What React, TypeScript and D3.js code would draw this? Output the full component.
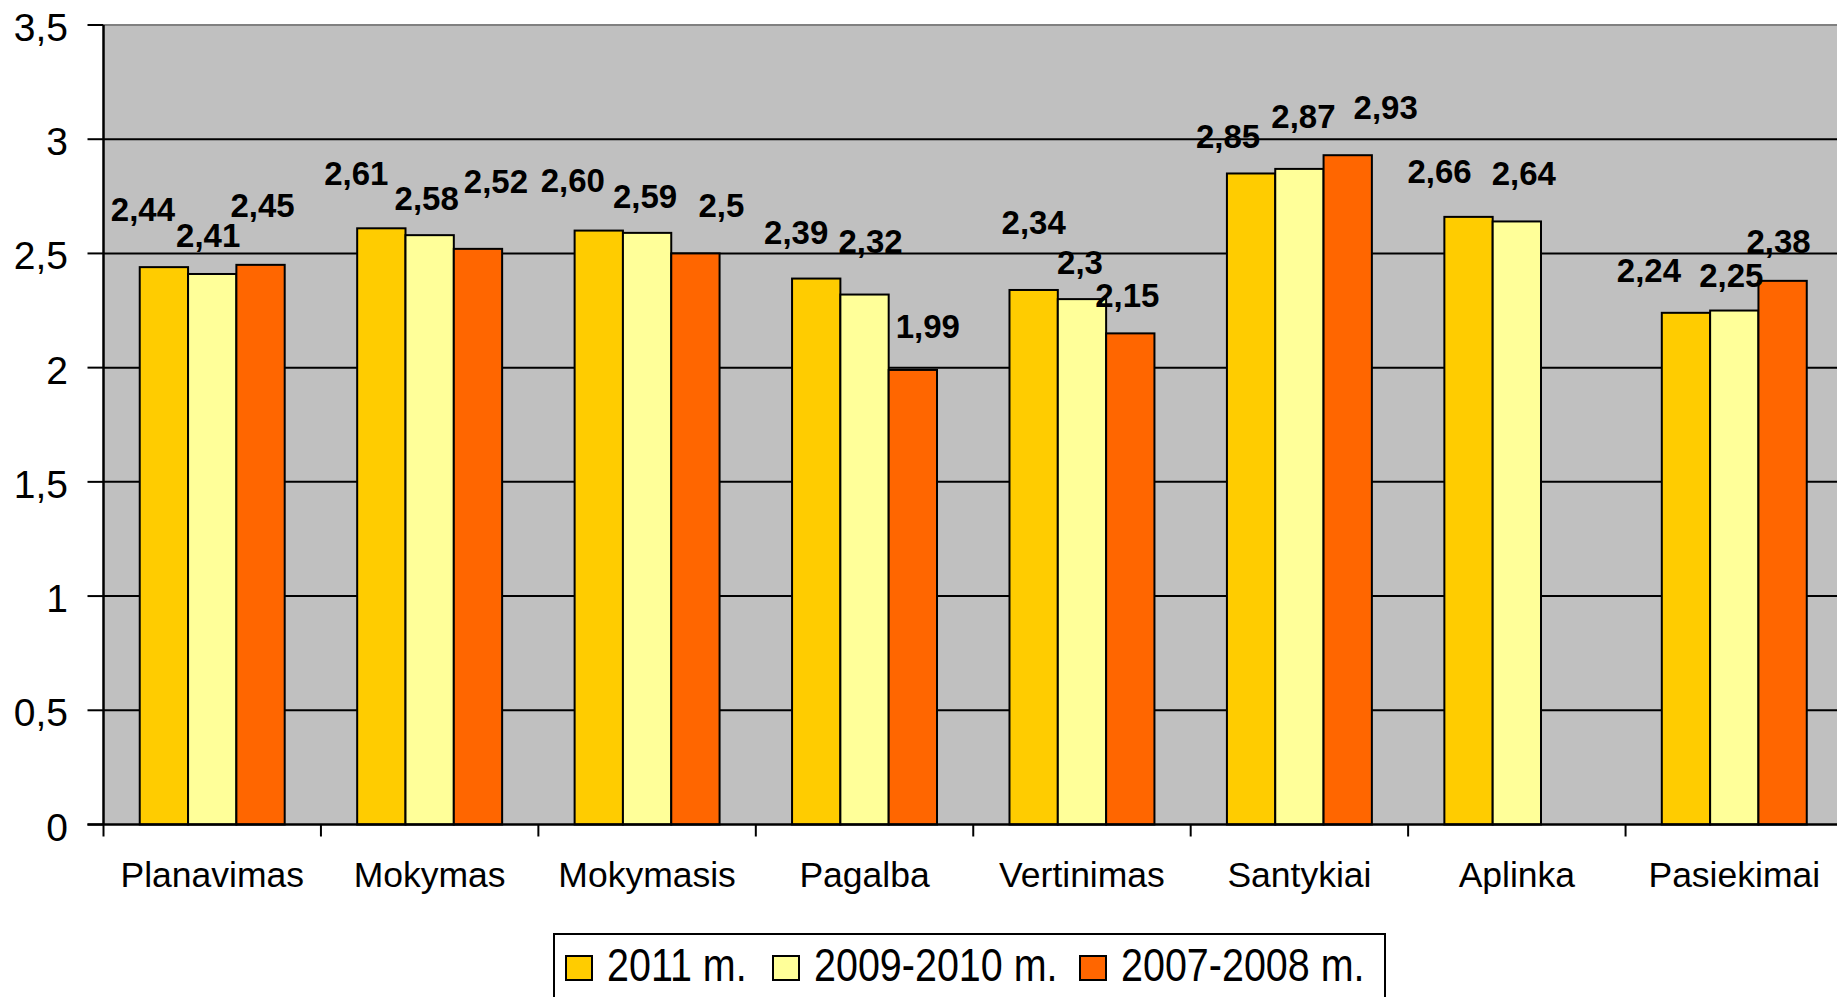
import { useEffect } from 'react'
import { range, scaleBand, scaleLinear } from 'd3'

const categories = [
  'Planavimas',
  'Mokymas',
  'Mokymasis',
  'Pagalba',
  'Vertinimas',
  'Santykiai',
  'Aplinka',
  'Pasiekimai',
]

const seriesNames = ['2011 m.', '2009-2010 m.', '2007-2008 m.']

const values2011 = [2.44, 2.61, 2.6, 2.39, 2.34, 2.85, 2.66, 2.24]
const values2009 = [2.41, 2.58, 2.59, 2.32, 2.3, 2.87, 2.64, 2.25]
const values2007 = [2.45, 2.52, 2.5, 1.99, 2.15, 2.93, null, 2.38]

// printed labels keep the source formatting ("2,60", "2,5")
const labels2011 = ['2,44', '2,61', '2,60', '2,39', '2,34', '2,85', '2,66', '2,24']
const labels2009 = ['2,41', '2,58', '2,59', '2,32', '2,3', '2,87', '2,64', '2,25']
const labels2007 = ['2,45', '2,52', '2,5', '1,99', '2,15', '2,93', '', '2,38']

const yTickValues = [0, 0.5, 1, 1.5, 2, 2.5, 3, 3.5]

const seriesColors = ['#FFCC00', '#FFFF99', '#FF6600']

// label placement as in the source chart: horizontal shift and height above the bar top
const labelDx = [
  [-21, -25, -26, -20, 0, -23, -29, -37],
  [-4, -3, -2, 6, -2, 4, 7, -3],
  [2, 18, 26, 15, -3, 38, 0, -4],
]
const labelRise = [
  [46, 43, 39, 35, 56, 25, 34, 31],
  [27, 25, 25, 42, 25, 41, 36, 24],
  [48, 56, 36, 32, 26, 36, 0, 28],
]

const width = 1837
const height = 997
const plot = { left: 103.5, right: 1843, top: 25, bottom: 824.5 }
const font = '"Liberation Sans", Arial, sans-serif'

function App() {
  useEffect(() => {
    document.body.style.margin = '0'
    document.body.style.overflow = 'hidden'
  }, [])

  const seriesValues = [values2011, values2009, values2007]
  const seriesLabels = [labels2011, labels2009, labels2007]

  const x0 = scaleBand().domain(categories).range([plot.left, plot.right])
  const gap = x0.bandwidth() / 6
  const x1 = scaleBand()
    .domain(range(seriesNames.length).map(String))
    .range([gap, x0.bandwidth() - gap])
  const y = scaleLinear().domain([0, 3.5]).range([plot.bottom, plot.top])

  const legendSwatchX = [566, 773, 1080]

  return (
    <svg
      width={width}
      height={height}
      viewBox={`0 0 ${width} ${height}`}
      style={{ position: 'absolute', left: 0, top: 0, display: 'block', background: '#fff' }}
      fontFamily={font}
    >
      <rect
        x={plot.left}
        y={plot.top}
        width={plot.right - plot.left}
        height={plot.bottom - plot.top}
        fill="#C0C0C0"
      />
      <line x1={plot.left} x2={plot.right} y1={plot.top} y2={plot.top} stroke="#808080" strokeWidth={2} />

      {yTickValues
        .filter((t) => t > 0 && t < 3.5)
        .map((t) => (
          <line
            key={`grid-${t}`}
            x1={plot.left}
            x2={plot.right}
            y1={y(t)}
            y2={y(t)}
            stroke="#000"
            strokeWidth={2}
          />
        ))}

      {seriesValues.map((vals, si) =>
        vals.map((v, ci) => {
          if (v === null) return null
          const bx = (x0(categories[ci]) ?? 0) + (x1(String(si)) ?? 0)
          return (
            <rect
              key={`bar-${si}-${ci}`}
              x={bx}
              y={y(v)}
              width={x1.bandwidth()}
              height={plot.bottom - y(v)}
              fill={seriesColors[si]}
              stroke="#000"
              strokeWidth={2}
            />
          )
        }),
      )}

      {/* axes */}
      <line x1={plot.left} x2={plot.left} y1={plot.top} y2={plot.bottom} stroke="#000" strokeWidth={2.5} />
      <line x1={plot.left - 16} x2={plot.right} y1={plot.bottom} y2={plot.bottom} stroke="#000" strokeWidth={2.5} />

      {yTickValues.map((t) => (
        <g key={`ytick-${t}`}>
          <line x1={plot.left - 16} x2={plot.left} y1={y(t)} y2={y(t)} stroke="#000" strokeWidth={2} />
          <text x={68} y={y(t) + 16} textAnchor="end" fontSize={39} fill="#000">
            {String(t).replace('.', ',')}
          </text>
        </g>
      ))}

      {range(categories.length + 1).map((i) => {
        const tx = plot.left + i * x0.step()
        return (
          <line key={`xtick-${i}`} x1={tx} x2={tx} y1={plot.bottom} y2={plot.bottom + 12} stroke="#000" strokeWidth={2} />
        )
      })}

      {categories.map((c) => (
        <text
          key={`xlabel-${c}`}
          x={(x0(c) ?? 0) + x0.bandwidth() / 2}
          y={887}
          textAnchor="middle"
          fontSize={35.5}
          fill="#000"
        >
          {c}
        </text>
      ))}

      {/* data labels */}
      {seriesValues.map((vals, si) =>
        vals.map((v, ci) => {
          if (v === null) return null
          const cx = (x0(categories[ci]) ?? 0) + (x1(String(si)) ?? 0) + x1.bandwidth() / 2
          return (
            <text
              key={`label-${si}-${ci}`}
              x={cx + labelDx[si][ci]}
              y={y(v) - labelRise[si][ci]}
              textAnchor="middle"
              fontSize={33}
              fontWeight="bold"
              fill="#000"
            >
              {seriesLabels[si][ci]}
            </text>
          )
        }),
      )}

      {/* legend */}
      <rect x={554} y={934} width={831} height={90} fill="#fff" stroke="#000" strokeWidth={2} />
      {seriesNames.map((name, i) => (
        <g key={`legend-${name}`}>
          <rect
            x={legendSwatchX[i]}
            y={956}
            width={26}
            height={24}
            fill={seriesColors[i]}
            stroke="#000"
            strokeWidth={2}
          />
          <text
            transform={`translate(${legendSwatchX[i] + 41}, 981) scale(0.84, 1)`}
            fontSize={47}
            fill="#000"
          >
            {name}
          </text>
        </g>
      ))}
    </svg>
  )
}

export default App
